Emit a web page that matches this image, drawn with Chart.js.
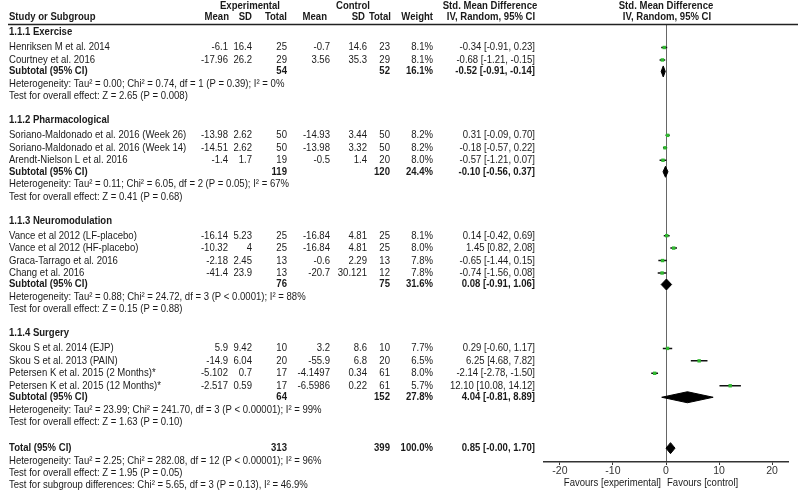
<!DOCTYPE html>
<html>
<head>
<meta charset="utf-8">
<script src="https://cdn.jsdelivr.net/npm/chart.js@4"></script>
<style>
  html, body { margin: 0; padding: 0; background: #fff; }
  #wrap { width: 800px; height: 496px; }
</style>
</head>
<body>
<div id="wrap"><canvas id="forest" width="800" height="496"></canvas></div>
<script>
// data
const groupNames = ['1.1.1 Exercise', '1.1.2 Pharmacological', '1.1.3 Neuromodulation', '1.1.4 Surgery'];

const studyNames = [
  'Henriksen M et al. 2014',
  'Courtney et al. 2016',
  'Soriano-Maldonado et al. 2016 (Week 26)',
  'Soriano-Maldonado et al. 2016 (Week 14)',
  'Arendt-Nielson L et al. 2016',
  'Vance et al 2012 (LF-placebo)',
  'Vance et al 2012 (HF-placebo)',
  'Graca-Tarrago et al. 2016',
  'Chang et al. 2016',
  'Skou S et al. 2014 (EJP)',
  'Skou S et al. 2013 (PAIN)',
  'Petersen K et al. 2015 (2 Months)*',
  'Petersen K et al. 2015 (12 Months)*'
];
const studyGroup = [0, 0, 1, 1, 1, 2, 2, 2, 2, 3, 3, 3, 3];

const expMean = [-6.1, -17.96, -13.98, -14.51, -1.4, -16.14, -10.32, -2.18, -41.4, 5.9, -14.9, -5.102, -2.517];
const expSd   = [16.4, 26.2, 2.62, 2.62, 1.7, 5.23, 4, 2.45, 23.9, 9.42, 6.04, 0.7, 0.59];
const expN    = [25, 29, 50, 50, 19, 25, 25, 13, 13, 10, 20, 17, 17];
const ctlMean = [-0.7, 3.56, -14.93, -13.98, -0.5, -16.84, -16.84, -0.6, -20.7, 3.2, -55.9, -4.1497, -6.5986];
const ctlSd   = [14.6, 35.3, 3.44, 3.32, 1.4, 4.81, 4.81, 2.29, 30.121, 8.6, 6.8, 0.34, 0.22];
const ctlN    = [23, 29, 50, 50, 20, 25, 25, 13, 12, 10, 20, 61, 61];
const weight  = [8.1, 8.1, 8.2, 8.2, 8.0, 8.1, 8.0, 7.8, 7.8, 7.7, 6.5, 8.0, 5.7];
const smd     = [-0.34, -0.68, 0.31, -0.18, -0.57, 0.14, 1.45, -0.65, -0.74, 0.29, 6.25, -2.14, 12.10];
const smdLo   = [-0.91, -1.21, -0.09, -0.57, -1.21, -0.42, 0.82, -1.44, -1.56, -0.60, 4.68, -2.78, 10.08];
const smdHi   = [0.23, -0.15, 0.70, 0.22, 0.07, 0.69, 2.08, 0.15, 0.08, 1.17, 7.82, -1.50, 14.12];

const subExpN   = [54, 119, 76, 64];
const subCtlN   = [52, 120, 75, 152];
const subWeight = [16.1, 24.4, 31.6, 27.8];
const subSmd    = [-0.52, -0.10, 0.08, 4.04];
const subLo     = [-0.91, -0.56, -0.91, -0.81];
const subHi     = [-0.14, 0.37, 1.06, 8.89];
const subHet = [
  'Heterogeneity: Tau² = 0.00; Chi² = 0.74, df = 1 (P = 0.39); I² = 0%',
  'Heterogeneity: Tau² = 0.11; Chi² = 6.05, df = 2 (P = 0.05); I² = 67%',
  'Heterogeneity: Tau² = 0.88; Chi² = 24.72, df = 3 (P < 0.0001); I² = 88%',
  'Heterogeneity: Tau² = 23.99; Chi² = 241.70, df = 3 (P < 0.00001); I² = 99%'
];
const subTest = [
  'Test for overall effect: Z = 2.65 (P = 0.008)',
  'Test for overall effect: Z = 0.41 (P = 0.68)',
  'Test for overall effect: Z = 0.15 (P = 0.88)',
  'Test for overall effect: Z = 1.63 (P = 0.10)'
];

const totalN = [313, 399];
const totalWeight = 100.0;
const totalSmd = [0.85, -0.00, 1.70];
const totalNotes = [
  'Heterogeneity: Tau² = 2.25; Chi² = 282.08, df = 12 (P < 0.00001); I² = 96%',
  'Test for overall effect: Z = 1.95 (P = 0.05)',
  'Test for subgroup differences: Chi² = 5.65, df = 3 (P = 0.13), I² = 46.9%'
];

const xTicks = [-20, -10, 0, 10, 20];

// ---- row layout (y in canvas pixels, the y scale runs 24..462) ----
const rows = [];
groupNames.forEach((g, gi) => {
  rows.push({ kind: 'group', gi });
  studyGroup.forEach((sg, si) => { if (sg === gi) rows.push({ kind: 'study', si }); });
  rows.push({ kind: 'sub', gi });
  rows.push({ kind: 'note', text: subHet[gi] });
  rows.push({ kind: 'note', text: subTest[gi] });
});
rows.push({ kind: 'total' });
totalNotes.forEach(t => rows.push({ kind: 'note', text: t }));

let yy = 32.5;
rows.forEach((r, i) => {
  if (i > 0) {
    const prev = rows[i - 1].kind;
    if (r.kind === 'group') yy += 24;
    else if (r.kind === 'total') yy += 26;
    else if (prev === 'group') yy += 15;
    else if (r.kind === 'sub') yy += 11.5;
    else yy += 12.45;
  }
  r.y = yy;
});

const fmt = v => ((v < 0 || Object.is(v, -0)) ? '-' : '') + Math.abs(v).toFixed(2);
const ci = (m, l, h) => fmt(m) + ' [' + fmt(l) + ', ' + fmt(h) + ']';

// datasets
const ciLine = [];
const points = [];
const diamonds = [];
const diamondH = 5.5;
rows.forEach(r => {
  if (r.kind === 'study') {
    ciLine.push({ x: smdLo[r.si], y: r.y }, { x: smdHi[r.si], y: r.y }, { x: null, y: null });
    points.push({ x: smd[r.si], y: r.y });
  } else if (r.kind === 'sub' || r.kind === 'total') {
    const m = r.kind === 'sub' ? subSmd[r.gi] : totalSmd[0];
    const l = r.kind === 'sub' ? subLo[r.gi] : totalSmd[1];
    const h = r.kind === 'sub' ? subHi[r.gi] : totalSmd[2];
    diamonds.push([
      { x: l, y: r.y }, { x: m, y: r.y - diamondH }, { x: h, y: r.y },
      { x: m, y: r.y + diamondH }, { x: l, y: r.y }
    ]);
  }
});

const FONT = "'Liberation Sans', Arial, sans-serif";
const FS = '10.8px ';
const SQUEEZE = 0.885;   // the source text is a little condensed
const TXT = '#1a1a1a';

const col = { name: 9, eMean: 228, eSd: 252, eN: 287, cMean: 330, cSd: 367, cN: 390, w: 433, smd: 535 };

const tablePlugin = {
  id: 'table',
  afterDraw(chart) {
    const ctx = chart.ctx;
    const ys = chart.scales.y;
    const xs = chart.scales.x;
    ctx.save();
    ctx.fillStyle = TXT;
    ctx.textBaseline = 'middle';
    const put = (t, x, y, align, bold) => {
      ctx.save();
      ctx.font = (bold ? 'bold ' : '') + FS + FONT;
      ctx.textAlign = align;
      ctx.translate(x, y);
      ctx.scale(SQUEEZE, 1);
      ctx.fillText(String(t), 0, 0);
      ctx.restore();
    };
    // headers
    put('Experimental', 250, 6, 'center', true);
    put('Control', 353, 6, 'center', true);
    put('Std. Mean Difference', 490, 6, 'center', true);
    put('Std. Mean Difference', 666, 6, 'center', true);
    put('Study or Subgroup', col.name, 17, 'left', true);
    put('Mean', col.eMean + 1, 17, 'right', true);
    put('SD', col.eSd, 17, 'right', true);
    put('Total', col.eN, 17, 'right', true);
    put('Mean', col.cMean - 3, 17, 'right', true);
    put('SD', col.cSd - 2, 17, 'right', true);
    put('Total', col.cN + 1, 17, 'right', true);
    put('Weight', col.w, 17, 'right', true);
    put('IV, Random, 95% CI', 491, 17, 'center', true);
    put('IV, Random, 95% CI', 667, 17, 'center', true);
    ctx.strokeStyle = '#222';
    ctx.lineWidth = 1.5;
    ctx.beginPath();
    ctx.moveTo(8, 24.5);
    ctx.lineTo(798, 24.5);
    ctx.stroke();

    rows.forEach(r => {
      const y = ys.getPixelForValue(r.y);
      if (r.kind === 'group') {
        put(groupNames[r.gi], col.name, y, 'left', true);
      } else if (r.kind === 'study') {
        const i = r.si;
        put(studyNames[i], col.name, y, 'left');
        put(expMean[i], col.eMean, y, 'right');
        put(expSd[i], col.eSd, y, 'right');
        put(expN[i], col.eN, y, 'right');
        put(ctlMean[i], col.cMean, y, 'right');
        put(ctlSd[i], col.cSd, y, 'right');
        put(ctlN[i], col.cN, y, 'right');
        put(weight[i].toFixed(1) + '%', col.w, y, 'right');
        put(ci(smd[i], smdLo[i], smdHi[i]), col.smd, y, 'right');
      } else if (r.kind === 'sub') {
        const g = r.gi;
        put('Subtotal (95% CI)', col.name, y, 'left', true);
        put(subExpN[g], col.eN, y, 'right', true);
        put(subCtlN[g], col.cN, y, 'right', true);
        put(subWeight[g].toFixed(1) + '%', col.w, y, 'right', true);
        put(ci(subSmd[g], subLo[g], subHi[g]), col.smd, y, 'right', true);
      } else if (r.kind === 'total') {
        put('Total (95% CI)', col.name, y, 'left', true);
        put(totalN[0], col.eN, y, 'right', true);
        put(totalN[1], col.cN, y, 'right', true);
        put(totalWeight.toFixed(1) + '%', col.w, y, 'right', true);
        put(ci(totalSmd[0], totalSmd[1], totalSmd[2]), col.smd, y, 'right', true);
      } else {
        put(r.text, col.name, y, 'left');
      }
    });

    const zx = xs.getPixelForValue(0);
    put('Favours [experimental]', zx - 5, 483, 'right');
    put('Favours [control]', zx + 1, 483, 'left');
    ctx.restore();
  }
};

const diamondSets = diamonds.map(d => ({
  data: d,
  showLine: true,
  fill: 'shape',
  backgroundColor: '#000',
  borderColor: '#000',
  borderWidth: 1,
  pointRadius: 0,
  order: 3
}));

new Chart(document.getElementById('forest'), {
  type: 'scatter',
  data: {
    datasets: [
      {
        data: points,
        pointStyle: 'rect',
        pointRadius: 2.4,
        backgroundColor: '#2fb82f',
        borderWidth: 0,
        order: 1
      },
      {
        data: ciLine,
        showLine: true,
        spanGaps: false,
        borderColor: '#111',
        borderWidth: 1.5,
        pointRadius: 0,
        order: 2
      },
      ...diamondSets
    ]
  },
  options: {
    responsive: false,
    animation: false,
    layout: { padding: { left: 544, right: 12, top: 24, bottom: 0 } },
    plugins: { legend: { display: false }, tooltip: { enabled: false } },
    scales: {
      x: {
        type: 'linear',
        min: -23,
        max: 23,
        afterBuildTicks: s => { s.ticks = xTicks.map(v => ({ value: v })); },
        afterFit: s => { s.height = 34; },
        ticks: { color: '#333', font: { size: 10.5, family: FONT }, padding: 0 },
        grid: {
          color: c => (c.tick && c.tick.value === 0) ? '#666' : 'rgba(0,0,0,0)',
          tickColor: '#333',
          tickLength: 3,
          lineWidth: 1
        },
        border: { display: true, color: '#333', width: 1.5 }
      },
      y: { type: 'linear', min: 24, max: 462, reverse: true, display: false }
    }
  },
  plugins: [tablePlugin]
});
</script>
</body>
</html>
